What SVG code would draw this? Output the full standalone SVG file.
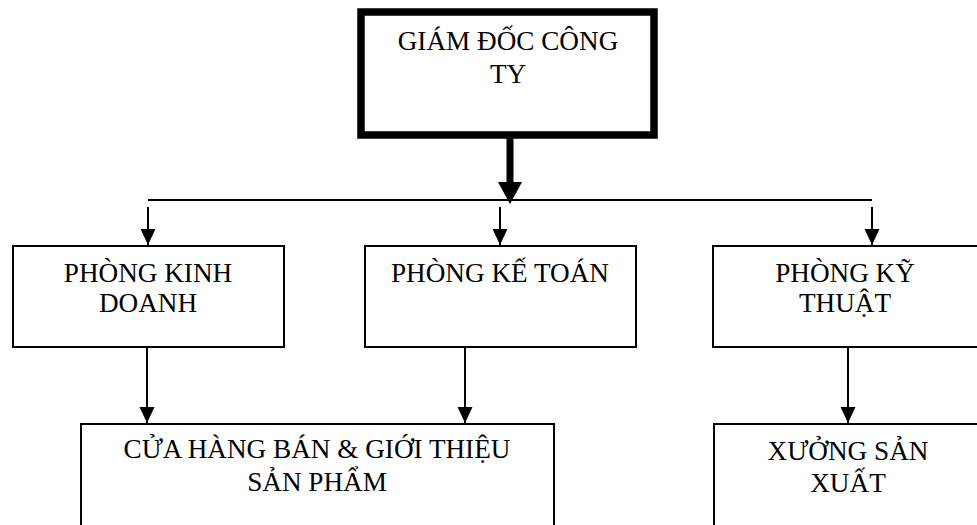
<svg xmlns="http://www.w3.org/2000/svg" width="977" height="525" viewBox="0 0 977 525">
<style>
.box{fill:#fff;stroke:#000;stroke-width:2}
.top{fill:#fff;stroke:#000;stroke-width:7.5}
text{font-family:"Liberation Serif","Times New Roman",serif;font-size:27.2px;fill:#000;text-anchor:middle}
.ln{stroke:#000;stroke-width:2;fill:none}
</style>
<defs>
<marker id="ah" markerUnits="userSpaceOnUse" markerWidth="16" markerHeight="16" viewBox="0 0 16 16" refX="16" refY="8" orient="auto">
<path d="M0,0.5 L16,8 L0,15.5 Z" fill="#000"/>
</marker>
</defs>
<rect width="977" height="525" fill="#fff"/>
<g id="connectors">
<line x1="510" y1="138" x2="510" y2="184" stroke="#000" stroke-width="7"/>
<path d="M498,182 L522,182 L510,204 Z" fill="#000"/>
<line class="ln" x1="148" y1="200" x2="872" y2="200"/>
<line class="ln" x1="148" y1="207" x2="148" y2="245" marker-end="url(#ah)"/>
<line class="ln" x1="500" y1="207" x2="500" y2="245" marker-end="url(#ah)"/>
<line class="ln" x1="872" y1="207" x2="872" y2="245" marker-end="url(#ah)"/>
<line class="ln" x1="147" y1="348" x2="147" y2="423" marker-end="url(#ah)"/>
<line class="ln" x1="465" y1="348" x2="465" y2="423" marker-end="url(#ah)"/>
<line class="ln" x1="848" y1="348" x2="848" y2="423" marker-end="url(#ah)"/>
</g>
<g id="giam-doc">
<rect class="top" x="361" y="12" width="293" height="123"/>
<text x="508" y="50">GIÁM ĐỐC CÔNG</text>
<text x="508" y="83">TY</text>
</g>
<g id="kinh-doanh">
<rect class="box" x="13" y="246" width="271" height="101"/>
<text x="148" y="282">PHÒNG KINH</text>
<text x="148" y="312">DOANH</text>
</g>
<g id="ke-toan">
<rect class="box" x="365" y="246" width="271" height="101"/>
<text x="500" y="282">PHÒNG KẾ TOÁN</text>
</g>
<g id="ky-thuat">
<rect class="box" x="713" y="246" width="270" height="101"/>
<text x="845" y="282">PHÒNG KỸ</text>
<text x="845" y="312">THUẬT</text>
</g>
<g id="cua-hang">
<rect class="box" x="81" y="424" width="473" height="120"/>
<text x="317" y="458">CỬA HÀNG BÁN &amp; GIỚI THIỆU</text>
<text x="317" y="491">SẢN PHẨM</text>
</g>
<g id="xuong">
<rect class="box" x="714" y="424" width="280" height="120"/>
<text x="848" y="460">XƯỞNG SẢN</text>
<text x="848" y="492">XUẤT</text>
</g>
</svg>
